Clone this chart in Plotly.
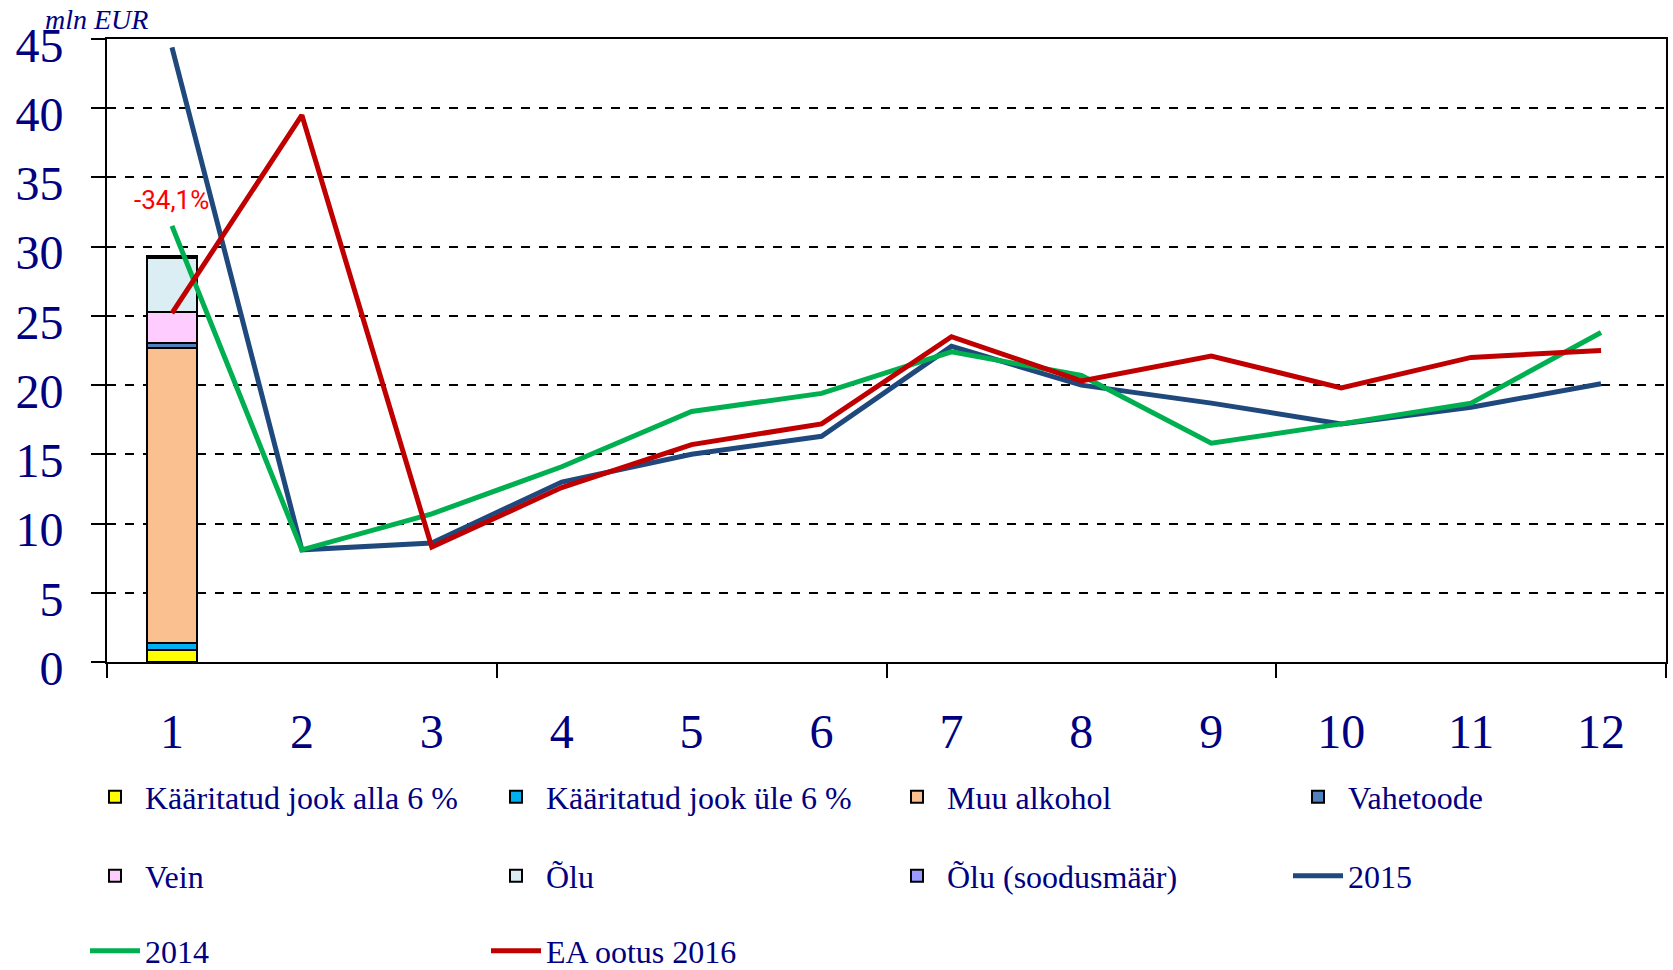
import plotly.graph_objects as go

months = list(range(1, 13))
month_labels = [str(m) for m in months]

# Stacked bar (only month 1 has data)
bar_names = ["Kääritatud jook alla 6 %", "Kääritatud jook üle 6 %", "Muu alkohol",
             "Vahetoode", "Vein", "Õlu", "Õlu (soodusmäär)"]
bar_colors = ["#FFFF00", "#00B0F0", "#FAC090", "#4F81BD", "#FFCCFF", "#DAEEF3", "#9999FF"]
kaar_alla6 = [0.9] + [None] * 11
kaar_ule6 = [0.5] + [None] * 11
muu_alkohol = [21.3] + [None] * 11
vahetoode = [0.35] + [None] * 11
vein = [2.25] + [None] * 11
olu = [3.85] + [None] * 11
olu_sood = [0.2] + [None] * 11
bar_values = [kaar_alla6, kaar_ule6, muu_alkohol, vahetoode, vein, olu, olu_sood]

y2015 = [44.4, 8.1, 8.6, 13.0, 15.0, 16.3, 22.8, 20.0, 18.7, 17.2, 18.4, 20.1]
y2014 = [31.5, 8.1, 10.7, 14.1, 18.1, 19.4, 22.4, 20.7, 15.8, 17.2, 18.7, 23.8]
ea2016 = [25.2, 39.5, 8.3, 12.6, 15.7, 17.2, 23.5, 20.3, 22.1, 19.8, 22.0, 22.5]

annot_text = "-34,1%"
annot_x = 1
annot_y = 33.4

NAVY = "#000080"
SERIF = "Liberation Serif"
legend_font = dict(family=SERIF, size=32, color=NAVY)

# legend placement per trace (row / column groups)
bar_legends = ["legend", "legend", "legend", "legend4", "legend2", "legend2", "legend2"]

fig = go.Figure()
for name, col, vals, lg in zip(bar_names, bar_colors, bar_values, bar_legends):
    fig.add_trace(go.Bar(x=months, y=vals, name=name, width=0.39,
                         marker=dict(color=col, line=dict(color="black", width=2)),
                         legend=lg))

fig.add_trace(go.Scatter(x=months, y=y2015, name="2015", mode="lines",
                         line=dict(color="#1F497D", width=5), legend="legend5"))
fig.add_trace(go.Scatter(x=months, y=y2014, name="2014", mode="lines",
                         line=dict(color="#00B050", width=5), legend="legend3"))
fig.add_trace(go.Scatter(x=months, y=ea2016, name="EA ootus 2016", mode="lines",
                         line=dict(color="#C00000", width=5), legend="legend3"))

fig.add_annotation(x=annot_x, y=annot_y, text=annot_text, showarrow=False,
                   font=dict(family="Roboto", size=26, color="#FF0000"))
fig.add_annotation(xref="paper", yref="paper", x=-0.007, y=1.032, xanchor="center",
                   yanchor="middle", text="<i>mln EUR</i>", showarrow=False,
                   font=dict(family=SERIF, size=28, color=NAVY))

def legend_cfg(xpx, ypx):
    return dict(orientation="h", xref="container", yref="container",
                x=xpx / 1673, y=1 - ypx / 970, xanchor="left", yanchor="middle",
                entrywidth=336, entrywidthmode="pixels", itemwidth=50,
                font=legend_font, bgcolor="rgba(0,0,0,0)", traceorder="normal")

fig.update_layout(
    width=1673, height=970,
    margin=dict(l=107, r=7, t=39, b=308, autoexpand=False),
    plot_bgcolor="white", paper_bgcolor="white",
    barmode="stack", bargap=0,
    showlegend=True,
    legend=legend_cfg(85, 797),
    legend2=legend_cfg(85, 876),
    legend3=legend_cfg(85, 951),
    legend4=legend_cfg(1288, 797),
    legend5=legend_cfg(1288, 876),
    xaxis=dict(range=[0.5, 12.5], tickmode="array", tickvals=months, ticktext=month_labels,
               ticks="", showgrid=False, zeroline=False, automargin=False,
               showline=True, linecolor="black", linewidth=2, mirror=True,
               tickfont=dict(family=SERIF, size=48, color=NAVY),
               ticklabelstandoff=26,
               minor=dict(tickmode="array", tickvals=[0.5, 3.5, 6.5, 9.5, 12.5],
                          ticks="outside", ticklen=14, tickwidth=2, tickcolor="black",
                          showgrid=False)),
    yaxis=dict(range=[0, 45], dtick=5, tick0=0, ticks="outside", ticklen=14, tickwidth=2,
               tickcolor="black", showline=True, linecolor="black", linewidth=2, mirror=True,
               showgrid=True, gridcolor="black", gridwidth=1.5, griddash="dash",
               zeroline=False, automargin=False,
               tickfont=dict(family=SERIF, size=48, color=NAVY),
               ticklabelstandoff=18, ticklabelshift=6),
)

fig.write_html("out.html", config={"displayModeBar": False},
               post_script="document.body.style.margin='0';document.body.style.overflow='hidden';")
